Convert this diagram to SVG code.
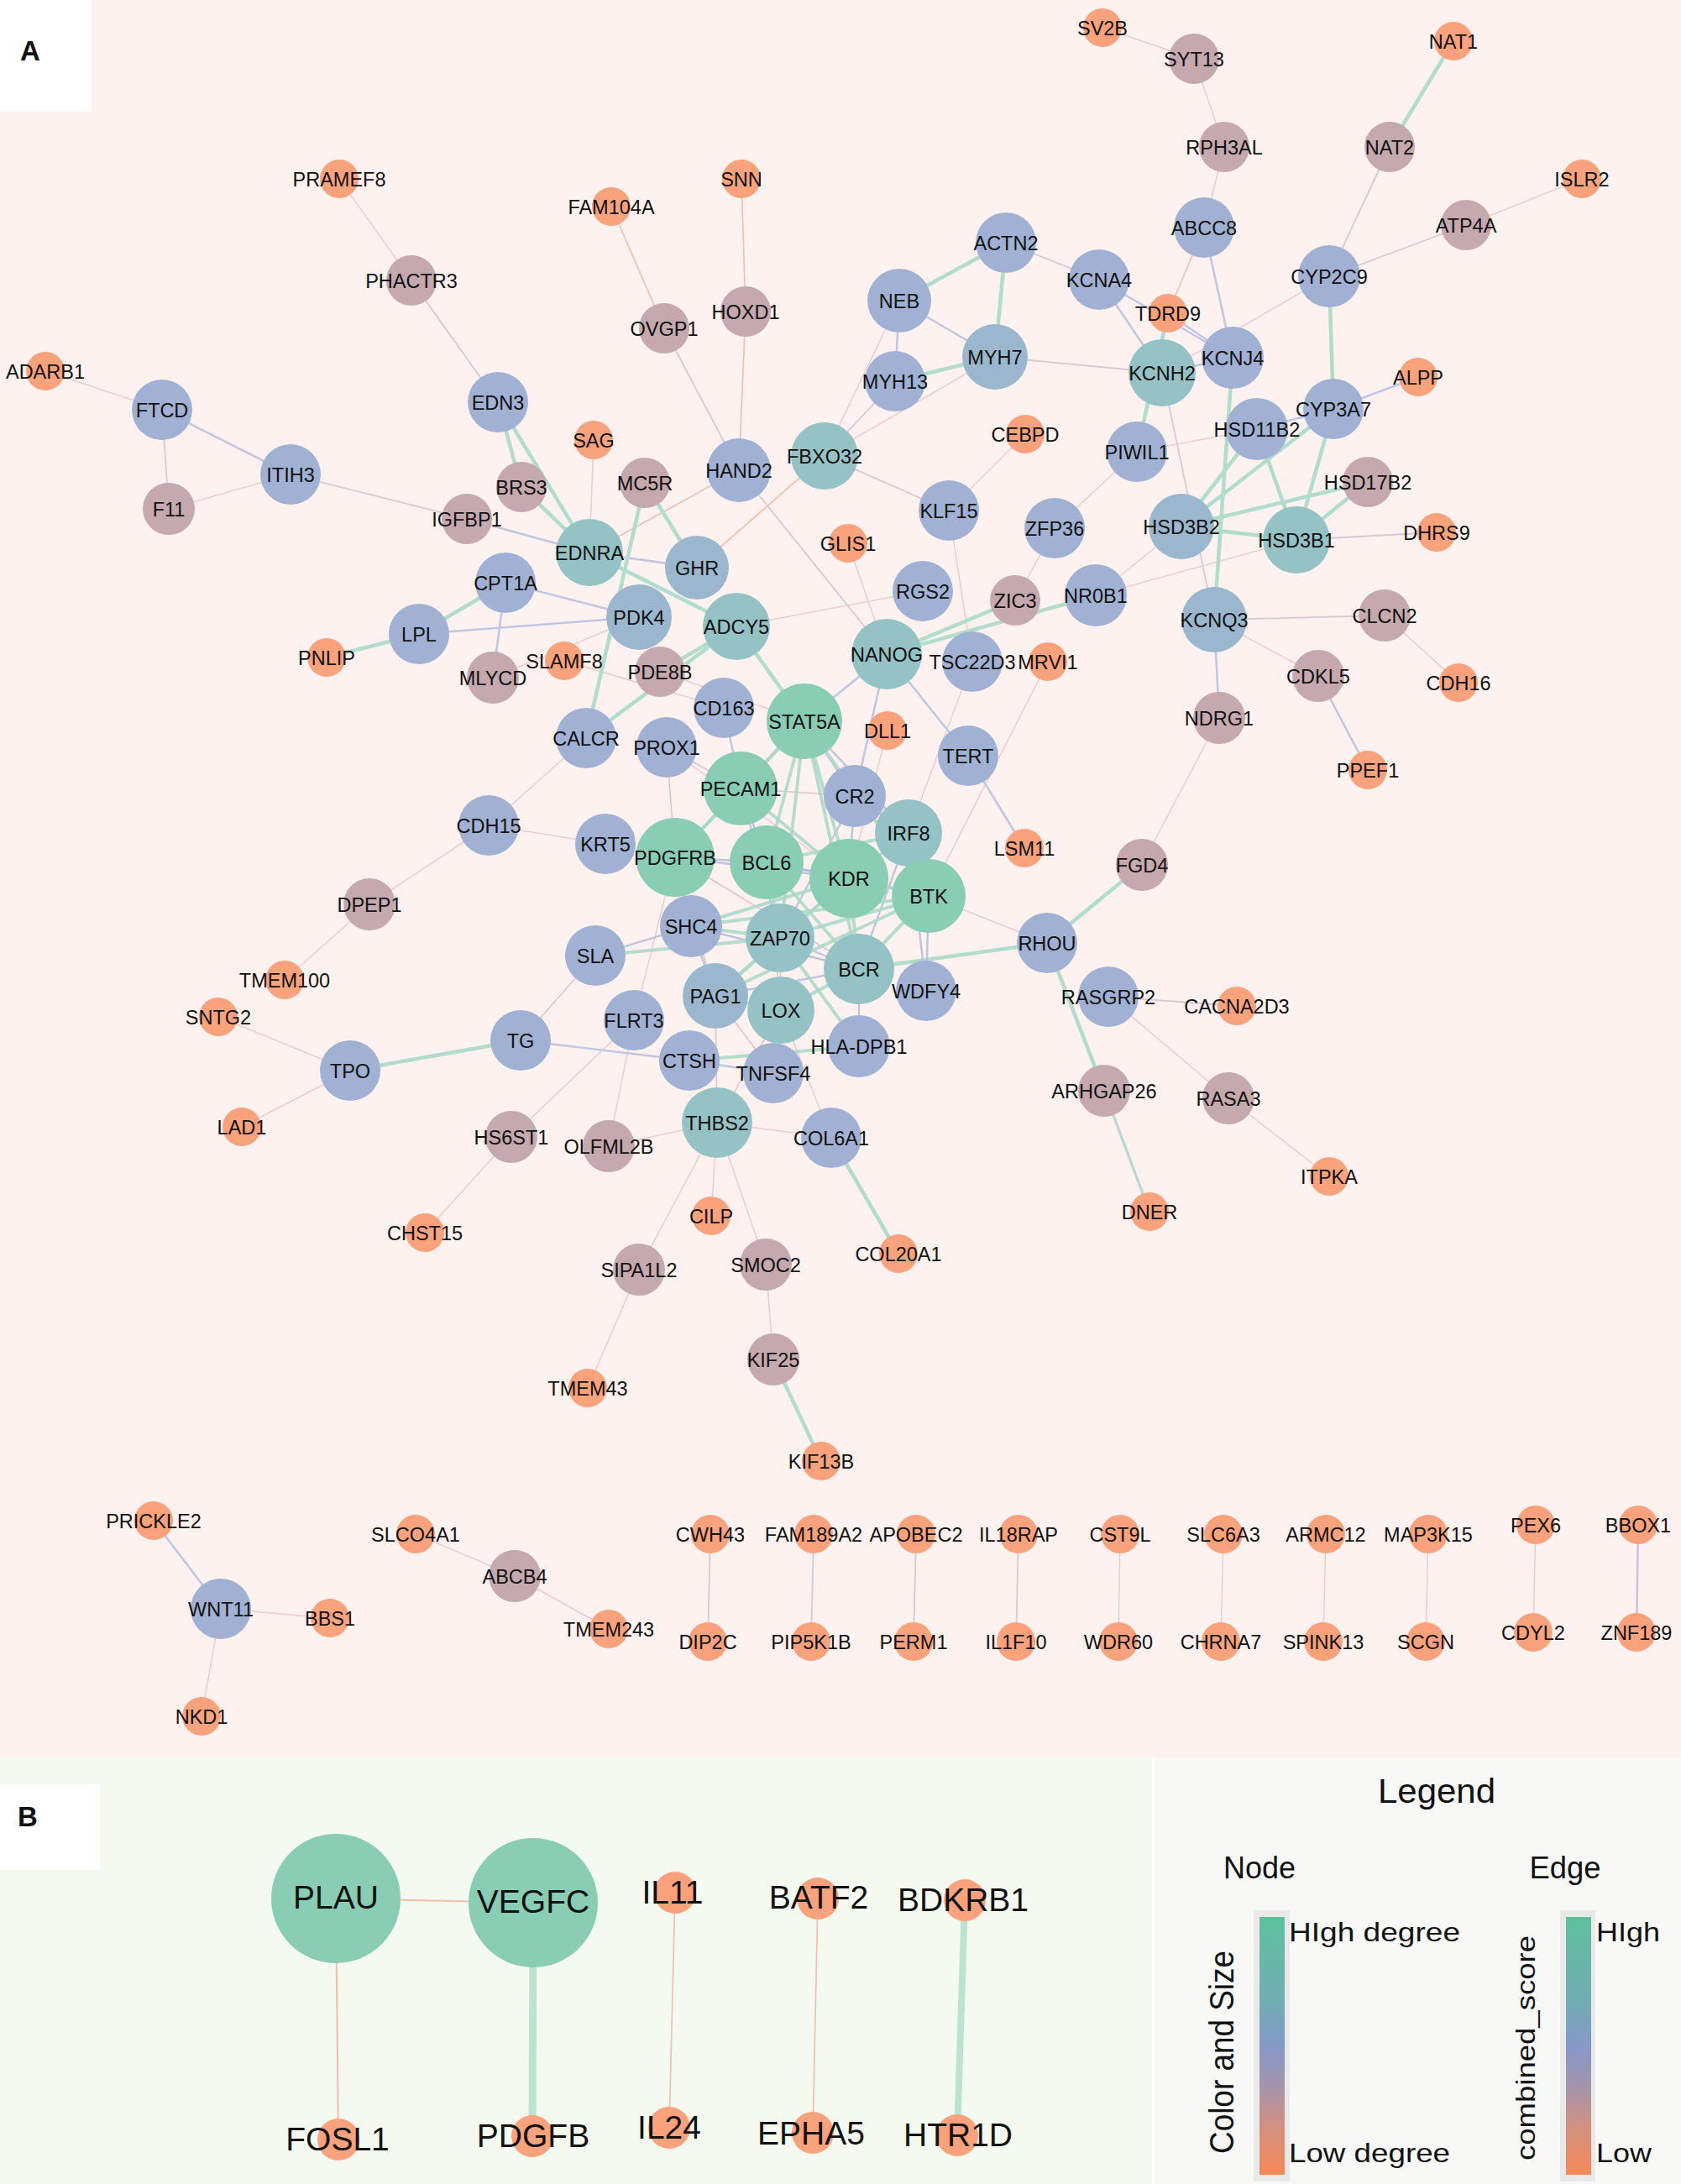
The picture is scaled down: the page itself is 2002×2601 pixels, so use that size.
<svg xmlns="http://www.w3.org/2000/svg" width="2002" height="2601" viewBox="0 0 2002 2601">
<defs>
<style>
text{font-family:"Liberation Sans",Arial,sans-serif;fill:#111;text-anchor:middle}
.nodes text{font-size:23.5px}
.o circle{fill:#F9A27B}
.m circle{fill:#C5A9AF}
.b circle{fill:#A1B1D3}
.s circle{fill:#9BB7CD}
.t circle{fill:#95C2C5}
.g circle{fill:#88CDB4}
.edges line{stroke-linecap:round}
.e1{stroke:#ECCDCB;stroke-width:1.5}
.e5{stroke:#EFC3B2;stroke-width:1.7}
.e2{stroke:#DCC7D3;stroke-width:1.8}
.e3{stroke:#C2C6E0;stroke-width:2.6}
.e6{stroke:#B9D8D4;stroke-width:3.4}
.e4{stroke:#B2DDCD;stroke-width:4.6}
.c4{stroke:#A9D8C7;stroke-width:4;stroke-opacity:0.85}
.c3{stroke:#B6BCD9;stroke-width:2.4;stroke-opacity:0.85}
.c1{stroke:#E3C2C2;stroke-width:1.5}
.bl text{font-size:39px}
.lg{font-size:32px;text-anchor:start}
</style>
<linearGradient id="grad" x1="0" y1="0" x2="0" y2="1">
<stop offset="0" stop-color="#5EC19C"/>
<stop offset="0.33" stop-color="#72ADB3"/>
<stop offset="0.5" stop-color="#8598C8"/>
<stop offset="0.66" stop-color="#A595AA"/>
<stop offset="0.82" stop-color="#D3907F"/>
<stop offset="1" stop-color="#F68A57"/>
</linearGradient>
</defs>

<rect x="0" y="0" width="2002" height="2093" fill="#FDF2F0"/>
<rect x="0" y="0" width="109" height="133" fill="#FFFFFF"/>
<text x="36" y="71.5" style="font-size:33px;font-weight:bold">A</text>
<rect x="0" y="2093" width="1372" height="508" fill="#F5FAF0"/>
<rect x="1374" y="2093" width="628" height="508" fill="#F8F8F7"/>
<rect x="0" y="2125" width="119" height="102" fill="#FFFFFF"/>
<text x="33" y="2175" style="font-size:33px;font-weight:bold">B</text>

<g id="edges" class="edges">
<line class="e1" x1="404" y1="213" x2="490" y2="334"/>
<line class="e1" x1="54" y1="442" x2="193" y2="488"/>
<line class="e1" x1="201" y1="606" x2="346" y2="565"/>
<line class="e1" x1="1313" y1="33" x2="1422" y2="70"/>
<line class="e1" x1="1422" y1="70" x2="1458" y2="175"/>
<line class="e1" x1="1458" y1="175" x2="1434" y2="271"/>
<line class="e1" x1="1884" y1="213" x2="1746" y2="268"/>
<line class="e1" x1="982" y1="543" x2="1071" y2="358"/>
<line class="e1" x1="982" y1="543" x2="1185" y2="425"/>
<line class="e1" x1="1221" y1="517" x2="1130" y2="608"/>
<line class="e1" x1="707" y1="524" x2="702" y2="658"/>
<line class="e1" x1="1010" y1="647" x2="1056" y2="779"/>
<line class="e1" x1="1130" y1="608" x2="1158" y2="788"/>
<line class="e1" x1="1256" y1="629" x2="1354" y2="538"/>
<line class="e1" x1="1256" y1="629" x2="1209" y2="715"/>
<line class="e1" x1="1583" y1="329" x2="1384" y2="444"/>
<line class="e1" x1="1354" y1="538" x2="1497" y2="511"/>
<line class="e1" x1="1407" y1="627" x2="1305" y2="709"/>
<line class="e1" x1="1544" y1="643" x2="1305" y2="709"/>
<line class="e1" x1="1446" y1="738" x2="1570" y2="805"/>
<line class="e1" x1="1649" y1="733" x2="1737" y2="813"/>
<line class="e1" x1="1452" y1="855" x2="1360" y2="1030"/>
<line class="e1" x1="587" y1="807" x2="761" y2="735"/>
<line class="e1" x1="698" y1="879" x2="582" y2="983"/>
<line class="e1" x1="582" y1="983" x2="721" y2="1005"/>
<line class="e1" x1="582" y1="983" x2="440" y2="1077"/>
<line class="e1" x1="440" y1="1077" x2="339" y2="1167"/>
<line class="e1" x1="260" y1="1211" x2="417" y2="1275"/>
<line class="e1" x1="417" y1="1275" x2="288" y2="1342"/>
<line class="e1" x1="609" y1="1354" x2="755" y2="1215"/>
<line class="e1" x1="609" y1="1354" x2="506" y2="1468"/>
<line class="e1" x1="725" y1="1365" x2="854" y2="1337"/>
<line class="e1" x1="725" y1="1365" x2="755" y2="1215"/>
<line class="e1" x1="854" y1="1337" x2="990" y2="1355"/>
<line class="e1" x1="854" y1="1337" x2="847" y2="1448"/>
<line class="e1" x1="854" y1="1337" x2="761" y2="1512"/>
<line class="e1" x1="854" y1="1337" x2="912" y2="1506"/>
<line class="e1" x1="912" y1="1506" x2="921" y2="1619"/>
<line class="e1" x1="761" y1="1512" x2="700" y2="1653"/>
<line class="e1" x1="1320" y1="1187" x2="1463" y2="1308"/>
<line class="e1" x1="1463" y1="1308" x2="1583" y2="1401"/>
<line class="e1" x1="263" y1="1916" x2="393" y2="1927"/>
<line class="e1" x1="263" y1="1916" x2="240" y2="2044"/>
<line class="e1" x1="495" y1="1827" x2="613" y2="1877"/>
<line class="e1" x1="613" y1="1877" x2="725" y2="1940"/>
<line class="e2" x1="846" y1="1827" x2="843" y2="1955"/>
<line class="e2" x1="969" y1="1827" x2="966" y2="1955"/>
<line class="e2" x1="1091" y1="1827" x2="1088" y2="1955"/>
<line class="e2" x1="1213" y1="1827" x2="1210" y2="1955"/>
<line class="e1" x1="1334" y1="1827" x2="1332" y2="1955"/>
<line class="e1" x1="1457" y1="1827" x2="1454" y2="1955"/>
<line class="e1" x1="1579" y1="1827" x2="1576" y2="1955"/>
<line class="e1" x1="1701" y1="1827" x2="1698" y2="1955"/>
<line class="e1" x1="1829" y1="1816" x2="1826" y2="1944"/>
<line class="e3" x1="1951" y1="1816" x2="1949" y2="1944"/>
<line class="e1" x1="877" y1="746" x2="1099" y2="704"/>
<line class="e1" x1="1057" y1="870" x2="1011" y2="1046"/>
<line class="e1" x1="1106" y1="1067" x2="1247" y2="1123"/>
<line class="e1" x1="755" y1="1215" x2="804" y2="1021"/>
<line class="e1" x1="990" y1="1355" x2="930" y2="1203"/>
<line class="e1" x1="1158" y1="788" x2="1082" y2="992"/>
<line class="e1" x1="1248" y1="788" x2="1106" y2="1067"/>
<line class="e1" x1="672" y1="787" x2="862" y2="843"/>
<line class="e1" x1="786" y1="800" x2="958" y2="859"/>
<line class="e1" x1="794" y1="890" x2="1011" y2="1046"/>
<line class="e5" x1="1434" y1="271" x2="1391" y2="373"/>
<line class="e5" x1="728" y1="246" x2="791" y2="391"/>
<line class="e5" x1="883" y1="213" x2="888" y2="371"/>
<line class="e5" x1="888" y1="371" x2="880" y2="560"/>
<line class="e5" x1="982" y1="543" x2="830" y2="676"/>
<line class="e5" x1="702" y1="658" x2="880" y2="560"/>
<line class="e2" x1="490" y1="334" x2="593" y2="479"/>
<line class="e2" x1="193" y1="488" x2="201" y2="606"/>
<line class="e2" x1="346" y1="565" x2="556" y2="618"/>
<line class="e2" x1="1655" y1="175" x2="1583" y2="329"/>
<line class="e2" x1="1746" y1="268" x2="1583" y2="329"/>
<line class="e2" x1="791" y1="391" x2="880" y2="560"/>
<line class="e2" x1="1198" y1="289" x2="1309" y2="333"/>
<line class="e2" x1="1185" y1="425" x2="1384" y2="444"/>
<line class="e2" x1="982" y1="543" x2="1066" y2="454"/>
<line class="e2" x1="982" y1="543" x2="1130" y2="608"/>
<line class="e2" x1="880" y1="560" x2="1056" y2="779"/>
<line class="e2" x1="1544" y1="643" x2="1711" y2="634"/>
<line class="e2" x1="1384" y1="444" x2="1446" y2="738"/>
<line class="e2" x1="1446" y1="738" x2="1649" y2="733"/>
<line class="e2" x1="620" y1="1239" x2="709" y2="1138"/>
<line class="e2" x1="1320" y1="1187" x2="1473" y2="1198"/>
<line class="e2" x1="794" y1="890" x2="882" y2="939"/>
<line class="e3" x1="193" y1="488" x2="346" y2="565"/>
<line class="e3" x1="556" y1="618" x2="702" y2="658"/>
<line class="e3" x1="1434" y1="271" x2="1468" y2="426"/>
<line class="e3" x1="1309" y1="333" x2="1468" y2="426"/>
<line class="e3" x1="1309" y1="333" x2="1384" y2="444"/>
<line class="e3" x1="1391" y1="373" x2="1468" y2="426"/>
<line class="e3" x1="1384" y1="444" x2="1468" y2="426"/>
<line class="e3" x1="1071" y1="358" x2="1185" y2="425"/>
<line class="e3" x1="1071" y1="358" x2="1066" y2="454"/>
<line class="e3" x1="1588" y1="487" x2="1689" y2="449"/>
<line class="e3" x1="1588" y1="487" x2="1497" y2="511"/>
<line class="e3" x1="1452" y1="855" x2="1446" y2="738"/>
<line class="e3" x1="1570" y1="805" x2="1629" y2="917"/>
<line class="e3" x1="602" y1="694" x2="761" y2="735"/>
<line class="e3" x1="602" y1="694" x2="587" y2="807"/>
<line class="e3" x1="499" y1="755" x2="761" y2="735"/>
<line class="e3" x1="702" y1="658" x2="830" y2="676"/>
<line class="e3" x1="620" y1="1239" x2="821" y2="1263"/>
<line class="e3" x1="183" y1="1811" x2="263" y2="1916"/>
<line class="e3" x1="1153" y1="900" x2="1220" y2="1010"/>
<line class="e3" x1="1056" y1="779" x2="1153" y2="900"/>
<line class="e3" x1="1056" y1="779" x2="958" y2="859"/>
<line class="e3" x1="1056" y1="779" x2="1018" y2="948"/>
<line class="e3" x1="862" y1="843" x2="882" y2="939"/>
<line class="e6" x1="1315" y1="1299" x2="1369" y2="1443"/>
<line class="e4" x1="593" y1="479" x2="621" y2="580"/>
<line class="e4" x1="593" y1="479" x2="702" y2="658"/>
<line class="e4" x1="621" y1="580" x2="702" y2="658"/>
<line class="e4" x1="1198" y1="289" x2="1071" y2="358"/>
<line class="e4" x1="1198" y1="289" x2="1185" y2="425"/>
<line class="e4" x1="1066" y1="454" x2="1185" y2="425"/>
<line class="e4" x1="1731" y1="49" x2="1655" y2="175"/>
<line class="e4" x1="1391" y1="373" x2="1354" y2="538"/>
<line class="e4" x1="1583" y1="329" x2="1588" y2="487"/>
<line class="e4" x1="1588" y1="487" x2="1544" y2="643"/>
<line class="e4" x1="1588" y1="487" x2="1407" y2="627"/>
<line class="e4" x1="1497" y1="511" x2="1407" y2="627"/>
<line class="e4" x1="1497" y1="511" x2="1544" y2="643"/>
<line class="e4" x1="1629" y1="574" x2="1407" y2="627"/>
<line class="e4" x1="1629" y1="574" x2="1544" y2="643"/>
<line class="e4" x1="1407" y1="627" x2="1544" y2="643"/>
<line class="e4" x1="1468" y1="426" x2="1446" y2="738"/>
<line class="e4" x1="602" y1="694" x2="499" y2="755"/>
<line class="e4" x1="499" y1="755" x2="389" y2="783"/>
<line class="e4" x1="417" y1="1275" x2="620" y2="1239"/>
<line class="e4" x1="768" y1="575" x2="698" y2="879"/>
<line class="e4" x1="768" y1="575" x2="830" y2="676"/>
<line class="e4" x1="702" y1="658" x2="877" y2="746"/>
<line class="e4" x1="877" y1="746" x2="958" y2="859"/>
<line class="e4" x1="698" y1="879" x2="877" y2="746"/>
<line class="e4" x1="786" y1="800" x2="877" y2="746"/>
<line class="e4" x1="1056" y1="779" x2="1209" y2="715"/>
<line class="e4" x1="1056" y1="779" x2="1305" y2="709"/>
<line class="e4" x1="921" y1="1619" x2="978" y2="1740"/>
<line class="e4" x1="990" y1="1355" x2="1070" y2="1493"/>
<line class="e4" x1="1247" y1="1123" x2="1360" y2="1030"/>
<line class="e4" x1="1247" y1="1123" x2="1315" y2="1299"/>
<line class="e4" x1="1023" y1="1154" x2="1247" y2="1123"/>
<line class="c1" x1="882" y1="939" x2="1018" y2="948"/>
<line class="c1" x1="804" y1="1021" x2="1023" y2="1154"/>
<line class="c1" x1="804" y1="1021" x2="852" y2="1186"/>
<line class="c1" x1="913" y1="1027" x2="930" y2="1203"/>
<line class="c1" x1="929" y1="1117" x2="930" y2="1203"/>
<line class="c1" x1="852" y1="1186" x2="930" y2="1203"/>
<line class="c1" x1="930" y1="1203" x2="921" y2="1278"/>
<line class="c1" x1="930" y1="1203" x2="854" y2="1337"/>
<line class="c1" x1="921" y1="1278" x2="852" y2="1186"/>
<line class="c1" x1="854" y1="1337" x2="852" y2="1186"/>
<line class="c1" x1="794" y1="890" x2="804" y2="1021"/>
<line class="c3" x1="958" y1="859" x2="1018" y2="948"/>
<line class="c3" x1="958" y1="859" x2="1082" y2="992"/>
<line class="c3" x1="882" y1="939" x2="913" y2="1027"/>
<line class="c3" x1="882" y1="939" x2="929" y2="1117"/>
<line class="c3" x1="804" y1="1021" x2="913" y2="1027"/>
<line class="c3" x1="804" y1="1021" x2="1011" y2="1046"/>
<line class="c3" x1="804" y1="1021" x2="823" y2="1103"/>
<line class="c3" x1="913" y1="1027" x2="1011" y2="1046"/>
<line class="c3" x1="913" y1="1027" x2="1106" y2="1067"/>
<line class="c3" x1="1011" y1="1046" x2="929" y2="1117"/>
<line class="c3" x1="1011" y1="1046" x2="1018" y2="948"/>
<line class="c3" x1="1011" y1="1046" x2="1082" y2="992"/>
<line class="c3" x1="1106" y1="1067" x2="1082" y2="992"/>
<line class="c3" x1="1106" y1="1067" x2="1103" y2="1180"/>
<line class="c3" x1="1082" y1="992" x2="1023" y2="1154"/>
<line class="c3" x1="1082" y1="992" x2="1103" y2="1180"/>
<line class="c3" x1="1082" y1="992" x2="1018" y2="948"/>
<line class="c3" x1="1018" y1="948" x2="929" y2="1117"/>
<line class="c3" x1="929" y1="1117" x2="1023" y2="1154"/>
<line class="c3" x1="1023" y1="1154" x2="823" y2="1103"/>
<line class="c3" x1="1023" y1="1154" x2="852" y2="1186"/>
<line class="c3" x1="1023" y1="1154" x2="1023" y2="1246"/>
<line class="c3" x1="823" y1="1103" x2="709" y2="1138"/>
<line class="c3" x1="823" y1="1103" x2="852" y2="1186"/>
<line class="c3" x1="821" y1="1263" x2="921" y2="1278"/>
<line class="c4" x1="958" y1="859" x2="882" y2="939"/>
<line class="c4" x1="958" y1="859" x2="804" y2="1021"/>
<line class="c4" x1="958" y1="859" x2="929" y2="1117"/>
<line class="c4" x1="958" y1="859" x2="1023" y2="1154"/>
<line class="c4" x1="958" y1="859" x2="1106" y2="1067"/>
<line class="c4" x1="958" y1="859" x2="1011" y2="1046"/>
<line class="c4" x1="958" y1="859" x2="913" y2="1027"/>
<line class="c4" x1="882" y1="939" x2="804" y2="1021"/>
<line class="c4" x1="882" y1="939" x2="1011" y2="1046"/>
<line class="c4" x1="913" y1="1027" x2="1082" y2="992"/>
<line class="c4" x1="913" y1="1027" x2="929" y2="1117"/>
<line class="c4" x1="913" y1="1027" x2="1023" y2="1154"/>
<line class="c4" x1="1011" y1="1046" x2="1106" y2="1067"/>
<line class="c4" x1="1011" y1="1046" x2="823" y2="1103"/>
<line class="c4" x1="1011" y1="1046" x2="1023" y2="1154"/>
<line class="c4" x1="1011" y1="1046" x2="852" y2="1186"/>
<line class="c4" x1="1106" y1="1067" x2="929" y2="1117"/>
<line class="c4" x1="1106" y1="1067" x2="1023" y2="1154"/>
<line class="c4" x1="1106" y1="1067" x2="823" y2="1103"/>
<line class="c4" x1="1106" y1="1067" x2="852" y2="1186"/>
<line class="c4" x1="929" y1="1117" x2="823" y2="1103"/>
<line class="c4" x1="929" y1="1117" x2="852" y2="1186"/>
<line class="c4" x1="929" y1="1117" x2="709" y2="1138"/>
<line class="c4" x1="929" y1="1117" x2="1023" y2="1246"/>
<line class="c4" x1="1023" y1="1154" x2="930" y2="1203"/>
<line class="c4" x1="821" y1="1263" x2="1023" y2="1246"/>
<line class="e5" x1="400" y1="2261" x2="635" y2="2266" style="stroke-width:2.2"/>
<line class="e5" x1="400" y1="2261" x2="403" y2="2548" style="stroke-width:2.2"/>
<line x1="635" y1="2266" x2="634" y2="2544" style="stroke:#BCE3D2;stroke-width:9"/>
<line class="e5" x1="804" y1="2254" x2="797" y2="2534" style="stroke-width:1.8"/>
<line class="e5" x1="974" y1="2261" x2="968" y2="2540" style="stroke-width:1.8"/>
<line x1="1149" y1="2263" x2="1140" y2="2543" style="stroke:#BCE3D2;stroke-width:8"/>
</g>

<g class="nodes">
<g id="n-PRAMEF8" class="o"><circle cx="404" cy="213" r="23"/><text x="404" y="221.5">PRAMEF8</text></g>
<g id="n-ADARB1" class="o"><circle cx="54" cy="442" r="23"/><text x="54" y="450.5">ADARB1</text></g>
<g id="n-SV2B" class="o"><circle cx="1313" cy="33" r="23"/><text x="1313" y="41.5">SV2B</text></g>
<g id="n-SNN" class="o"><circle cx="883" cy="213" r="23"/><text x="883" y="221.5">SNN</text></g>
<g id="n-FAM104A" class="o"><circle cx="728" cy="246" r="23"/><text x="728" y="254.5">FAM104A</text></g>
<g id="n-SAG" class="o"><circle cx="707" cy="524" r="23"/><text x="707" y="532.5">SAG</text></g>
<g id="n-CEBPD" class="o"><circle cx="1221" cy="517" r="23"/><text x="1221" y="525.5">CEBPD</text></g>
<g id="n-GLIS1" class="o"><circle cx="1010" cy="647" r="23"/><text x="1010" y="655.5">GLIS1</text></g>
<g id="n-NAT1" class="o"><circle cx="1731" cy="49" r="23"/><text x="1731" y="57.5">NAT1</text></g>
<g id="n-ISLR2" class="o"><circle cx="1884" cy="213" r="23"/><text x="1884" y="221.5">ISLR2</text></g>
<g id="n-TDRD9" class="o"><circle cx="1391" cy="373" r="23"/><text x="1391" y="381.5">TDRD9</text></g>
<g id="n-ALPP" class="o"><circle cx="1689" cy="449" r="23"/><text x="1689" y="457.5">ALPP</text></g>
<g id="n-DHRS9" class="o"><circle cx="1711" cy="634" r="23"/><text x="1711" y="642.5">DHRS9</text></g>
<g id="n-PNLIP" class="o"><circle cx="389" cy="783" r="23"/><text x="389" y="791.5">PNLIP</text></g>
<g id="n-SLAMF8" class="o"><circle cx="672" cy="787" r="23"/><text x="672" y="795.5">SLAMF8</text></g>
<g id="n-DLL1" class="o"><circle cx="1057" cy="870" r="23"/><text x="1057" y="878.5">DLL1</text></g>
<g id="n-MRVI1" class="o"><circle cx="1248" cy="788" r="23"/><text x="1248" y="796.5">MRVI1</text></g>
<g id="n-LSM11" class="o"><circle cx="1220" cy="1010" r="23"/><text x="1220" y="1018.5">LSM11</text></g>
<g id="n-CDH16" class="o"><circle cx="1737" cy="813" r="23"/><text x="1737" y="821.5">CDH16</text></g>
<g id="n-PPEF1" class="o"><circle cx="1629" cy="917" r="23"/><text x="1629" y="925.5">PPEF1</text></g>
<g id="n-CACNA2D3" class="o"><circle cx="1473" cy="1198" r="23"/><text x="1473" y="1206.5">CACNA2D3</text></g>
<g id="n-TMEM100" class="o"><circle cx="339" cy="1167" r="23"/><text x="339" y="1175.5">TMEM100</text></g>
<g id="n-SNTG2" class="o"><circle cx="260" cy="1211" r="23"/><text x="260" y="1219.5">SNTG2</text></g>
<g id="n-LAD1" class="o"><circle cx="288" cy="1342" r="23"/><text x="288" y="1350.5">LAD1</text></g>
<g id="n-CHST15" class="o"><circle cx="506" cy="1468" r="23"/><text x="506" y="1476.5">CHST15</text></g>
<g id="n-CILP" class="o"><circle cx="847" cy="1448" r="23"/><text x="847" y="1456.5">CILP</text></g>
<g id="n-COL20A1" class="o"><circle cx="1070" cy="1493" r="23"/><text x="1070" y="1501.5">COL20A1</text></g>
<g id="n-TMEM43" class="o"><circle cx="700" cy="1653" r="23"/><text x="700" y="1661.5">TMEM43</text></g>
<g id="n-KIF13B" class="o"><circle cx="978" cy="1740" r="23"/><text x="978" y="1748.5">KIF13B</text></g>
<g id="n-DNER" class="o"><circle cx="1369" cy="1443" r="23"/><text x="1369" y="1451.5">DNER</text></g>
<g id="n-ITPKA" class="o"><circle cx="1583" cy="1401" r="23"/><text x="1583" y="1409.5">ITPKA</text></g>
<g id="n-PRICKLE2" class="o"><circle cx="183" cy="1811" r="23"/><text x="183" y="1819.5">PRICKLE2</text></g>
<g id="n-SLCO4A1" class="o"><circle cx="495" cy="1827" r="23"/><text x="495" y="1835.5">SLCO4A1</text></g>
<g id="n-BBS1" class="o"><circle cx="393" cy="1927" r="23"/><text x="393" y="1935.5">BBS1</text></g>
<g id="n-NKD1" class="o"><circle cx="240" cy="2044" r="23"/><text x="240" y="2052.5">NKD1</text></g>
<g id="n-TMEM243" class="o"><circle cx="725" cy="1940" r="23"/><text x="725" y="1948.5">TMEM243</text></g>
<g id="n-CWH43" class="o"><circle cx="846" cy="1827" r="23"/><text x="846" y="1835.5">CWH43</text></g>
<g id="n-DIP2C" class="o"><circle cx="843" cy="1955" r="23"/><text x="843" y="1963.5">DIP2C</text></g>
<g id="n-FAM189A2" class="o"><circle cx="969" cy="1827" r="23"/><text x="969" y="1835.5">FAM189A2</text></g>
<g id="n-PIP5K1B" class="o"><circle cx="966" cy="1955" r="23"/><text x="966" y="1963.5">PIP5K1B</text></g>
<g id="n-APOBEC2" class="o"><circle cx="1091" cy="1827" r="23"/><text x="1091" y="1835.5">APOBEC2</text></g>
<g id="n-PERM1" class="o"><circle cx="1088" cy="1955" r="23"/><text x="1088" y="1963.5">PERM1</text></g>
<g id="n-IL18RAP" class="o"><circle cx="1213" cy="1827" r="23"/><text x="1213" y="1835.5">IL18RAP</text></g>
<g id="n-IL1F10" class="o"><circle cx="1210" cy="1955" r="23"/><text x="1210" y="1963.5">IL1F10</text></g>
<g id="n-CST9L" class="o"><circle cx="1334" cy="1827" r="23"/><text x="1334" y="1835.5">CST9L</text></g>
<g id="n-WDR60" class="o"><circle cx="1332" cy="1955" r="23"/><text x="1332" y="1963.5">WDR60</text></g>
<g id="n-SLC6A3" class="o"><circle cx="1457" cy="1827" r="23"/><text x="1457" y="1835.5">SLC6A3</text></g>
<g id="n-CHRNA7" class="o"><circle cx="1454" cy="1955" r="23"/><text x="1454" y="1963.5">CHRNA7</text></g>
<g id="n-ARMC12" class="o"><circle cx="1579" cy="1827" r="23"/><text x="1579" y="1835.5">ARMC12</text></g>
<g id="n-SPINK13" class="o"><circle cx="1576" cy="1955" r="23"/><text x="1576" y="1963.5">SPINK13</text></g>
<g id="n-MAP3K15" class="o"><circle cx="1701" cy="1827" r="23"/><text x="1701" y="1835.5">MAP3K15</text></g>
<g id="n-SCGN" class="o"><circle cx="1698" cy="1955" r="23"/><text x="1698" y="1963.5">SCGN</text></g>
<g id="n-PEX6" class="o"><circle cx="1829" cy="1816" r="23"/><text x="1829" y="1824.5">PEX6</text></g>
<g id="n-CDYL2" class="o"><circle cx="1826" cy="1944" r="23"/><text x="1826" y="1952.5">CDYL2</text></g>
<g id="n-BBOX1" class="o"><circle cx="1951" cy="1816" r="23"/><text x="1951" y="1824.5">BBOX1</text></g>
<g id="n-ZNF189" class="o"><circle cx="1949" cy="1944" r="23"/><text x="1949" y="1952.5">ZNF189</text></g>

<g id="n-PHACTR3" class="m"><circle cx="490" cy="334" r="30"/><text x="490" y="342.5">PHACTR3</text></g>
<g id="n-F11" class="m"><circle cx="201" cy="606" r="31"/><text x="201" y="614.5">F11</text></g>
<g id="n-BRS3" class="m"><circle cx="621" cy="580" r="30"/><text x="621" y="588.5">BRS3</text></g>
<g id="n-IGFBP1" class="m"><circle cx="556" cy="618" r="30"/><text x="556" y="626.5">IGFBP1</text></g>
<g id="n-MC5R" class="m"><circle cx="768" cy="575" r="30"/><text x="768" y="583.5">MC5R</text></g>
<g id="n-OVGP1" class="m"><circle cx="791" cy="391" r="30"/><text x="791" y="399.5">OVGP1</text></g>
<g id="n-HOXD1" class="m"><circle cx="888" cy="371" r="30"/><text x="888" y="379.5">HOXD1</text></g>
<g id="n-SYT13" class="m"><circle cx="1422" cy="70" r="30"/><text x="1422" y="78.5">SYT13</text></g>
<g id="n-RPH3AL" class="m"><circle cx="1458" cy="175" r="30"/><text x="1458" y="183.5">RPH3AL</text></g>
<g id="n-NAT2" class="m"><circle cx="1655" cy="175" r="30"/><text x="1655" y="183.5">NAT2</text></g>
<g id="n-ATP4A" class="m"><circle cx="1746" cy="268" r="30"/><text x="1746" y="276.5">ATP4A</text></g>
<g id="n-HSD17B2" class="m"><circle cx="1629" cy="574" r="30"/><text x="1629" y="582.5">HSD17B2</text></g>
<g id="n-ZIC3" class="m"><circle cx="1209" cy="715" r="30"/><text x="1209" y="723.5">ZIC3</text></g>
<g id="n-PDE8B" class="m"><circle cx="786" cy="800" r="30"/><text x="786" y="808.5">PDE8B</text></g>
<g id="n-MLYCD" class="m"><circle cx="587" cy="807" r="31"/><text x="587" y="815.5">MLYCD</text></g>
<g id="n-CLCN2" class="m"><circle cx="1649" cy="733" r="31"/><text x="1649" y="741.5">CLCN2</text></g>
<g id="n-CDKL5" class="m"><circle cx="1570" cy="805" r="31"/><text x="1570" y="813.5">CDKL5</text></g>
<g id="n-NDRG1" class="m"><circle cx="1452" cy="855" r="31"/><text x="1452" y="863.5">NDRG1</text></g>
<g id="n-FGD4" class="m"><circle cx="1360" cy="1030" r="31"/><text x="1360" y="1038.5">FGD4</text></g>
<g id="n-DPEP1" class="m"><circle cx="440" cy="1077" r="31"/><text x="440" y="1085.5">DPEP1</text></g>
<g id="n-ARHGAP26" class="m"><circle cx="1315" cy="1299" r="31"/><text x="1315" y="1307.5">ARHGAP26</text></g>
<g id="n-RASA3" class="m"><circle cx="1463" cy="1308" r="31"/><text x="1463" y="1316.5">RASA3</text></g>
<g id="n-HS6ST1" class="m"><circle cx="609" cy="1354" r="31"/><text x="609" y="1362.5">HS6ST1</text></g>
<g id="n-OLFML2B" class="m"><circle cx="725" cy="1365" r="31"/><text x="725" y="1373.5">OLFML2B</text></g>
<g id="n-SIPA1L2" class="m"><circle cx="761" cy="1512" r="31"/><text x="761" y="1520.5">SIPA1L2</text></g>
<g id="n-SMOC2" class="m"><circle cx="912" cy="1506" r="31"/><text x="912" y="1514.5">SMOC2</text></g>
<g id="n-KIF25" class="m"><circle cx="921" cy="1619" r="31"/><text x="921" y="1627.5">KIF25</text></g>
<g id="n-ABCB4" class="m"><circle cx="613" cy="1877" r="31"/><text x="613" y="1885.5">ABCB4</text></g>

<g id="n-FTCD" class="b"><circle cx="193" cy="488" r="36"/><text x="193" y="496.5">FTCD</text></g>
<g id="n-ITIH3" class="b"><circle cx="346" cy="565" r="36"/><text x="346" y="573.5">ITIH3</text></g>
<g id="n-EDN3" class="b"><circle cx="593" cy="479" r="36"/><text x="593" y="487.5">EDN3</text></g>
<g id="n-CPT1A" class="b"><circle cx="602" cy="694" r="36"/><text x="602" y="702.5">CPT1A</text></g>
<g id="n-LPL" class="b"><circle cx="499" cy="755" r="36"/><text x="499" y="763.5">LPL</text></g>
<g id="n-CALCR" class="b"><circle cx="698" cy="879" r="36"/><text x="698" y="887.5">CALCR</text></g>
<g id="n-CDH15" class="b"><circle cx="582" cy="983" r="36"/><text x="582" y="991.5">CDH15</text></g>
<g id="n-KRT5" class="b"><circle cx="721" cy="1005" r="36"/><text x="721" y="1013.5">KRT5</text></g>
<g id="n-SLA" class="b"><circle cx="709" cy="1138" r="36"/><text x="709" y="1146.5">SLA</text></g>
<g id="n-TG" class="b"><circle cx="620" cy="1239" r="36"/><text x="620" y="1247.5">TG</text></g>
<g id="n-TPO" class="b"><circle cx="417" cy="1275" r="36"/><text x="417" y="1283.5">TPO</text></g>
<g id="n-FLRT3" class="b"><circle cx="755" cy="1215" r="36"/><text x="755" y="1223.5">FLRT3</text></g>
<g id="n-CTSH" class="b"><circle cx="821" cy="1263" r="36"/><text x="821" y="1271.5">CTSH</text></g>
<g id="n-TNFSF4" class="b"><circle cx="921" cy="1278" r="36"/><text x="921" y="1286.5">TNFSF4</text></g>
<g id="n-COL6A1" class="b"><circle cx="990" cy="1355" r="36"/><text x="990" y="1363.5">COL6A1</text></g>
<g id="n-HLA-DPB1" class="b"><circle cx="1023" cy="1246" r="37"/><text x="1023" y="1254.5">HLA-DPB1</text></g>
<g id="n-WDFY4" class="b"><circle cx="1103" cy="1180" r="36"/><text x="1103" y="1188.5">WDFY4</text></g>
<g id="n-RASGRP2" class="b"><circle cx="1320" cy="1187" r="36"/><text x="1320" y="1195.5">RASGRP2</text></g>
<g id="n-RHOU" class="b"><circle cx="1247" cy="1123" r="36"/><text x="1247" y="1131.5">RHOU</text></g>
<g id="n-TERT" class="b"><circle cx="1153" cy="900" r="36"/><text x="1153" y="908.5">TERT</text></g>
<g id="n-TSC22D3" class="b"><circle cx="1158" cy="788" r="36"/><text x="1158" y="796.5">TSC22D3</text></g>
<g id="n-CD163" class="b"><circle cx="862" cy="843" r="36"/><text x="862" y="851.5">CD163</text></g>
<g id="n-PROX1" class="b"><circle cx="794" cy="890" r="36"/><text x="794" y="898.5">PROX1</text></g>
<g id="n-RGS2" class="b"><circle cx="1099" cy="704" r="36"/><text x="1099" y="712.5">RGS2</text></g>
<g id="n-ZFP36" class="b"><circle cx="1256" cy="629" r="36"/><text x="1256" y="637.5">ZFP36</text></g>
<g id="n-KLF15" class="b"><circle cx="1130" cy="608" r="36"/><text x="1130" y="616.5">KLF15</text></g>
<g id="n-NR0B1" class="b"><circle cx="1305" cy="709" r="37"/><text x="1305" y="717.5">NR0B1</text></g>
<g id="n-PIWIL1" class="b"><circle cx="1354" cy="538" r="36"/><text x="1354" y="546.5">PIWIL1</text></g>
<g id="n-MYH13" class="b"><circle cx="1066" cy="454" r="36"/><text x="1066" y="462.5">MYH13</text></g>
<g id="n-KCNA4" class="b"><circle cx="1309" cy="333" r="36"/><text x="1309" y="341.5">KCNA4</text></g>
<g id="n-ACTN2" class="b"><circle cx="1198" cy="289" r="36"/><text x="1198" y="297.5">ACTN2</text></g>
<g id="n-ABCC8" class="b"><circle cx="1434" cy="271" r="36"/><text x="1434" y="279.5">ABCC8</text></g>
<g id="n-CYP2C9" class="b"><circle cx="1583" cy="329" r="37"/><text x="1583" y="337.5">CYP2C9</text></g>
<g id="n-CYP3A7" class="b"><circle cx="1588" cy="487" r="36"/><text x="1588" y="495.5">CYP3A7</text></g>
<g id="n-KCNJ4" class="b"><circle cx="1468" cy="426" r="37"/><text x="1468" y="434.5">KCNJ4</text></g>
<g id="n-HSD11B2" class="b"><circle cx="1497" cy="511" r="37"/><text x="1497" y="519.5">HSD11B2</text></g>
<g id="n-HAND2" class="b"><circle cx="880" cy="560" r="38"/><text x="880" y="568.5">HAND2</text></g>
<g id="n-NEB" class="b"><circle cx="1071" cy="358" r="38"/><text x="1071" y="366.5">NEB</text></g>
<g id="n-CR2" class="b"><circle cx="1018" cy="948" r="37"/><text x="1018" y="956.5">CR2</text></g>
<g id="n-WNT11" class="b"><circle cx="263" cy="1916" r="36"/><text x="263" y="1924.5">WNT11</text></g>
<g id="n-SHC4" class="b"><circle cx="823" cy="1103" r="37"/><text x="823" y="1111.5">SHC4</text></g>

<g id="n-GHR" class="s"><circle cx="830" cy="676" r="38"/><text x="830" y="684.5">GHR</text></g>
<g id="n-PDK4" class="s"><circle cx="761" cy="735" r="39"/><text x="761" y="743.5">PDK4</text></g>
<g id="n-MYH7" class="s"><circle cx="1185" cy="425" r="39"/><text x="1185" y="433.5">MYH7</text></g>
<g id="n-KCNQ3" class="s"><circle cx="1446" cy="738" r="39"/><text x="1446" y="746.5">KCNQ3</text></g>
<g id="n-HSD3B2" class="s"><circle cx="1407" cy="627" r="39"/><text x="1407" y="635.5">HSD3B2</text></g>
<g id="n-PAG1" class="s"><circle cx="852" cy="1186" r="39"/><text x="852" y="1194.5">PAG1</text></g>

<g id="n-EDNRA" class="t"><circle cx="702" cy="658" r="40"/><text x="702" y="666.5">EDNRA</text></g>
<g id="n-FBXO32" class="t"><circle cx="982" cy="543" r="40"/><text x="982" y="551.5">FBXO32</text></g>
<g id="n-KCNH2" class="t"><circle cx="1384" cy="444" r="40"/><text x="1384" y="452.5">KCNH2</text></g>
<g id="n-HSD3B1" class="t"><circle cx="1544" cy="643" r="40"/><text x="1544" y="651.5">HSD3B1</text></g>
<g id="n-ADCY5" class="t"><circle cx="877" cy="746" r="40"/><text x="877" y="754.5">ADCY5</text></g>
<g id="n-NANOG" class="t"><circle cx="1056" cy="779" r="42"/><text x="1056" y="787.5">NANOG</text></g>
<g id="n-IRF8" class="t"><circle cx="1082" cy="992" r="40"/><text x="1082" y="1000.5">IRF8</text></g>
<g id="n-THBS2" class="t"><circle cx="854" cy="1337" r="42"/><text x="854" y="1345.5">THBS2</text></g>
<g id="n-LOX" class="t"><circle cx="930" cy="1203" r="40"/><text x="930" y="1211.5">LOX</text></g>
<g id="n-ZAP70" class="t"><circle cx="929" cy="1117" r="41"/><text x="929" y="1125.5">ZAP70</text></g>
<g id="n-BCR" class="t"><circle cx="1023" cy="1154" r="42"/><text x="1023" y="1162.5">BCR</text></g>

<g id="n-PECAM1" class="g"><circle cx="882" cy="939" r="44"/><text x="882" y="947.5">PECAM1</text></g>
<g id="n-STAT5A" class="g"><circle cx="958" cy="859" r="45"/><text x="958" y="867.5">STAT5A</text></g>
<g id="n-BCL6" class="g"><circle cx="913" cy="1027" r="44"/><text x="913" y="1035.5">BCL6</text></g>
<g id="n-PDGFRB" class="g"><circle cx="804" cy="1021" r="47"/><text x="804" y="1029.5">PDGFRB</text></g>
<g id="n-KDR" class="g"><circle cx="1011" cy="1046" r="47"/><text x="1011" y="1054.5">KDR</text></g>
<g id="n-BTK" class="g"><circle cx="1106" cy="1067" r="44"/><text x="1106" y="1075.5">BTK</text></g>
</g>

<g class="bl">
<g id="n-PLAU" class="g"><circle cx="400" cy="2261" r="77"/><text x="400" y="2273">PLAU</text></g>
<g id="n-VEGFC" class="g"><circle cx="635" cy="2266" r="77"/><text x="635" y="2278">VEGFC</text></g>
<g id="n-IL11" class="o"><circle cx="804" cy="2254" r="25"/><text x="801" y="2267">IL11</text></g>
<g id="n-BATF2" class="o"><circle cx="974" cy="2261" r="25"/><text x="975" y="2273">BATF2</text></g>
<g id="n-BDKRB1" class="o"><circle cx="1149" cy="2263" r="25"/><text x="1147" y="2276">BDKRB1</text></g>
<g id="n-FOSL1" class="o"><circle cx="403" cy="2548" r="25"/><text x="402" y="2561">FOSL1</text></g>
<g id="n-PDGFB" class="o"><circle cx="634" cy="2544" r="25"/><text x="635" y="2557">PDGFB</text></g>
<g id="n-IL24" class="o"><circle cx="797" cy="2534" r="25"/><text x="797" y="2547">IL24</text></g>
<g id="n-EPHA5" class="o"><circle cx="968" cy="2540" r="25"/><text x="966" y="2554">EPHA5</text></g>
<g id="n-HTR1D" class="o"><circle cx="1140" cy="2543" r="25"/><text x="1141" y="2556">HTR1D</text></g>
</g>

<g id="legend">
<text x="1711" y="2147" style="font-size:40px" textLength="140" lengthAdjust="spacingAndGlyphs">Legend</text>
<text x="1500" y="2237" style="font-size:36px" textLength="86" lengthAdjust="spacingAndGlyphs">Node</text>
<text x="1864" y="2237" style="font-size:36px" textLength="85" lengthAdjust="spacingAndGlyphs">Edge</text>
<rect x="1493" y="2275" width="43" height="323" fill="#E9E9E9"/>
<rect x="1500" y="2283" width="30" height="307" fill="url(#grad)"/>
<rect x="1858" y="2275" width="42" height="323" fill="#E9E9E9"/>
<rect x="1865" y="2283" width="30" height="307" fill="url(#grad)"/>
<text class="lg" x="1535" y="2312" textLength="204" lengthAdjust="spacingAndGlyphs">HIgh degree</text>
<text class="lg" x="1535" y="2575" textLength="192" lengthAdjust="spacingAndGlyphs">Low degree</text>
<text class="lg" x="1901" y="2312" textLength="76" lengthAdjust="spacingAndGlyphs">HIgh</text>
<text class="lg" x="1901" y="2575" textLength="66" lengthAdjust="spacingAndGlyphs">Low</text>
<text transform="translate(1469,2565) rotate(-90)" x="0" y="0" style="font-size:40px;text-anchor:start" textLength="242" lengthAdjust="spacingAndGlyphs">Color and Size</text>
<text transform="translate(1828,2573) rotate(-90)" x="0" y="0" style="font-size:32px;text-anchor:start" textLength="268" lengthAdjust="spacingAndGlyphs">combined_score</text>
</g>
</svg>
